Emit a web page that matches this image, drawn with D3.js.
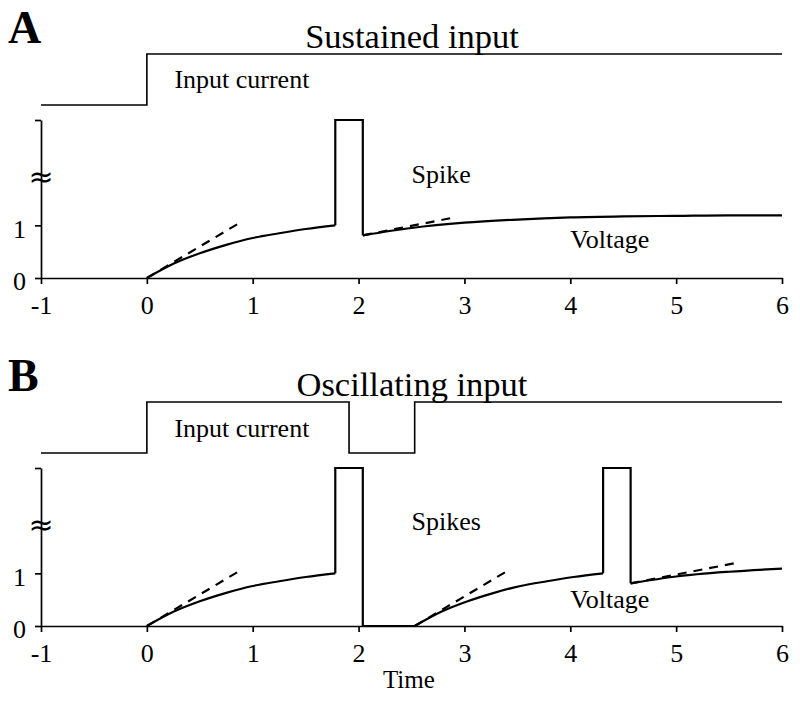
<!DOCTYPE html>
<html>
<head>
<meta charset="utf-8">
<script src="https://cdn.jsdelivr.net/npm/d3@7"></script>
<style>
  body { margin: 0; background: #fff; }
  svg { display: block; }
  text { font-family: "Liberation Serif", "Times New Roman", serif; fill: #000; }
</style>
</head>
<body>
<svg id="chart" width="800" height="701"></svg>
<script>
// Achsen
var timeTicks = [-1, 0, 1, 2, 3, 4, 5, 6];
var voltTicks = [0, 1, 3];        // 3 = Spitze des Spikes (ohne Beschriftung)
var voltLabels = ["0", "1", ""];

// Eingangsstrom (0 = niedrig, 1 = hoch)
var inputA = [[-1, 0], [0, 0], [0, 1], [6, 1]];
var inputB = [[-1, 0], [0, 0], [0, 1], [1.91, 1], [1.91, 0], [2.53, 0], [2.53, 1], [6, 1]];

// Spannung, Panel A
var riseA = [[0, 0], [0.25, 0.27], [0.5, 0.47], [0.75, 0.63], [1, 0.76], [1.25, 0.85], [1.5, 0.93], [1.78, 1.0]];
var spikeA = [[1.78, 1.0], [1.78, 3], [2.04, 3], [2.04, 0.81]];
var recoverA = [[2.04, 0.81], [2.5, 0.95], [3, 1.05], [3.5, 1.11], [4, 1.15], [4.5, 1.17], [5, 1.18], [5.5, 1.19], [6, 1.19]];
var tangentsA = [
    [[0, 0], [0.87, 1.04]],
    [[2.04, 0.81], [2.93, 1.16]]
];

// Spannung, Panel B
var riseB1 = [[0, 0], [0.25, 0.27], [0.5, 0.47], [0.75, 0.63], [1, 0.76], [1.25, 0.85], [1.5, 0.93], [1.78, 1.0]];
var spikeB1 = [[1.78, 1.0], [1.78, 3], [2.04, 3], [2.04, 0], [2.53, 0]];
var riseB2 = [[2.53, 0], [2.78, 0.27], [3.03, 0.47], [3.28, 0.63], [3.53, 0.76], [3.78, 0.85], [4.03, 0.93], [4.31, 1.0]];
var spikeB2 = [[4.31, 1.0], [4.31, 3], [4.57, 3], [4.57, 0.81]];
var recoverB = [[4.57, 0.81], [5, 0.94], [5.5, 1.03], [6, 1.09]];
var tangentsB = [
    [[0, 0], [0.87, 1.04]],
    [[2.53, 0], [3.4, 1.04]],
    [[4.57, 0.81], [5.55, 1.19]]
];

var svg = d3.select("#chart");

var x = d3.scaleLinear().domain([-1, 6]).range([41, 782]);

var smooth = d3.line()
        .x(function (d) { return x(d[0]); })
        .curve(d3.curveMonotoneX);
var straight = d3.line()
        .x(function (d) { return x(d[0]); });

//Zeichnet ein Panel: Eingangsstrom oben, Spannung darunter
function drawPanel(p) {
    var y = d3.scaleLinear().domain([0, 3]).range([p.bottom, p.top]);
    var yIn = d3.scaleLinear().domain([0, 1]).range([p.top - 15, p.top - 66]);
    var g = svg.append("g");

    //Buchstabe und Titel
    g.append("text")
            .attr("x", 8).attr("y", p.top - 77)
            .style("font-size", "46px").style("font-weight", "bold")
            .text(p.letter);
    g.append("text")
            .attr("x", 412).attr("y", p.top - 72)
            .attr("text-anchor", "middle")
            .style("font-size", "34.5px")
            .text(p.title);

    //Eingangsstrom
    g.append("path")
            .attr("d", straight.y(function (d) { return yIn(d[1]); })(p.input))
            .attr("fill", "none").attr("stroke", "#000").attr("stroke-width", 1.6);
    g.append("text")
            .attr("x", x(0.26)).attr("y", yIn(p.inputLabelY))
            .style("font-size", "26px")
            .text("Input current");

    //Achsen
    var xAxis = g.append("g")
            .attr("transform", "translate(0," + p.bottom + ")")
            .call(d3.axisBottom(x).tickValues(timeTicks).tickSize(6).tickSizeOuter(0).tickPadding(12)
                    .tickFormat(function (d) { return String(d); }));
    var yAxis = g.append("g")
            .attr("transform", "translate(" + x(-1) + ",0)")
            .call(d3.axisLeft(y).tickValues(voltTicks).tickSize(6).tickSizeOuter(0).tickPadding(9)
                    .tickFormat(function (d, i) { return voltLabels[i]; }));
    [xAxis, yAxis].forEach(function (a) {
        a.selectAll("path, line").attr("stroke", "#000").attr("stroke-width", 1.7);
        a.selectAll("text").style("font-size", "26px").style("font-family", "Liberation Serif").attr("fill", "#000");
    });
    yAxis.selectAll("text").attr("dy", "0.45em");

    //Bruchzeichen auf der Y-Achse
    g.append("text")
            .attr("x", x(-1)).attr("y", y(1.92))
            .attr("text-anchor", "middle").attr("dy", "0.35em")
            .style("font-size", "30px").style("font-family", "DejaVu Sans")
            .text("\u2248");

    //Spannungsverlauf
    var smoothY = smooth.y(function (d) { return y(d[1]); });
    var straightY = straight.y(function (d) { return y(d[1]); });
    p.curves.forEach(function (c) {
        g.append("path").attr("d", smoothY(c))
                .attr("fill", "none").attr("stroke", "#000").attr("stroke-width", 2.2);
    });
    p.spikes.forEach(function (s) {
        g.append("path").attr("d", straightY(s))
                .attr("fill", "none").attr("stroke", "#000").attr("stroke-width", 2.2);
    });
    p.tangents.forEach(function (t) {
        g.append("path").attr("d", straightY(t))
                .attr("fill", "none").attr("stroke", "#000").attr("stroke-width", 2.2)
                .attr("stroke-dasharray", "9,7");
    });

    //Beschriftungen
    g.append("text").attr("x", x(2.5)).attr("y", y(p.spikeLabelY))
            .style("font-size", "26px").text(p.spikeLabel);
    g.append("text").attr("x", x(4.0)).attr("y", y(p.voltLabelY))
            .style("font-size", "26px").text("Voltage");
}

drawPanel({
    letter: "A", title: "Sustained input", top: 120, bottom: 278,
    input: inputA, inputLabelY: 0.33,
    curves: [riseA, recoverA], spikes: [spikeA], tangents: tangentsA,
    spikeLabel: "Spike", spikeLabelY: 1.81, voltLabelY: 0.57
});
drawPanel({
    letter: "B", title: "Oscillating input", top: 468, bottom: 626,
    input: inputB, inputLabelY: 0.31,
    curves: [riseB1, riseB2, recoverB], spikes: [spikeB1, spikeB2], tangents: tangentsB,
    spikeLabel: "Spikes", spikeLabelY: 1.83, voltLabelY: 0.34
});

svg.append("text")
        .attr("x", x(2.23)).attr("y", 688)
        .style("font-size", "25px")
        .text("Time");
</script>
</body>
</html>
